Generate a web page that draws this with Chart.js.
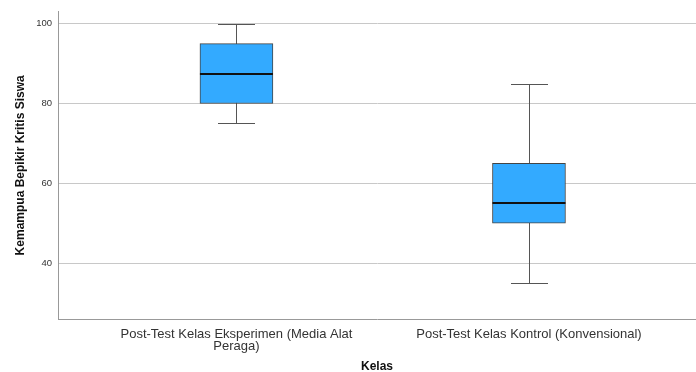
<!DOCTYPE html>
<html>
<head>
<meta charset="utf-8">
<script src="https://cdn.jsdelivr.net/npm/chart.js@4"></script>
<style>
  html, body { margin: 0; padding: 0; background: #fff; }
  #wrap { width: 696px; height: 372px; }
</style>
</head>
<body>
<div id="wrap"><canvas id="box-chart" width="696" height="372"></canvas></div>
<script>
// ===================== DATA =====================
const categories = [
  ["Post-Test Kelas Eksperimen (Media Alat", "Peraga)"],
  "Post-Test Kelas Kontrol (Konvensional)",
];
const mins = [75, 35];
const q1 = [80, 50];
const medians = [87.5, 55];
const q3 = [95, 65];
const maxs = [100, 85];
const yTicks = [40, 60, 80, 100];

const FONT = "'Liberation Sans', Arial, sans-serif";

// whiskers behind the boxes, median on top
const boxPlotPlugin = {
  id: "boxplot",
  beforeDatasetsDraw(chart) {
    const { ctx, scales } = chart;
    const x = scales.x, y = scales.y;
    ctx.save();
    ctx.strokeStyle = "#555";
    ctx.lineWidth = 1;
    categories.forEach((c, i) => {
      const px = Math.round(x.getPixelForValue(i)) + 0.5;
      const half = 18.5;
      const yMin = Math.round(y.getPixelForValue(mins[i])) + 0.5;
      const yMax = Math.round(y.getPixelForValue(maxs[i])) + 0.5;
      ctx.beginPath();
      ctx.moveTo(px, yMin);
      ctx.lineTo(px, yMax);
      ctx.moveTo(px - half, yMin);
      ctx.lineTo(px + half, yMin);
      ctx.moveTo(px - half, yMax);
      ctx.lineTo(px + half, yMax);
      ctx.stroke();
    });
    ctx.restore();
  },
  afterDatasetsDraw(chart) {
    const { ctx, scales } = chart;
    const x = scales.x, y = scales.y;
    ctx.save();
    ctx.strokeStyle = "#111";
    ctx.lineWidth = 2;
    categories.forEach((c, i) => {
      const px = x.getPixelForValue(i);
      const py = Math.round(y.getPixelForValue(medians[i]));
      ctx.beginPath();
      ctx.moveTo(px - 36.5, py);
      ctx.lineTo(px + 36.5, py);
      ctx.stroke();
    });
    ctx.restore();
  },
};

new Chart(document.getElementById("box-chart"), {
  type: "bar",
  data: {
    datasets: [
      {
        data: categories.map((c, i) => ({ x: i, y: [q1[i], q3[i]] })),
        backgroundColor: "#33aaff",
        borderColor: "#444",
        borderWidth: 1,
        borderSkipped: false,
        barThickness: 73,
      },
    ],
  },
  options: {
    responsive: false,
    animation: false,
    layout: { padding: { top: 3, right: 0, left: 0, bottom: 0 } },
    plugins: { legend: { display: false }, tooltip: { enabled: false } },
    scales: {
      x: {
        type: "linear",
        offset: false,
        min: -0.61,
        max: 1.571,
        afterBuildTicks: (s) => { s.ticks = categories.map((c, i) => ({ value: i })); },
        afterFit: (s) => { s.height = 53; },
        grid: { display: false },
        border: { display: true, color: "#999" },
        ticks: {
          callback: (v) => categories[v],
          color: "#333",
          font: { family: FONT, size: 13, lineHeight: 0.92 },
          padding: 1,
          maxRotation: 0,
          autoSkip: false,
        },
        title: {
          display: true,
          text: "Kelas",
          color: "#111",
          font: { family: FONT, size: 12, weight: "bold", lineHeight: 1 },
          padding: { top: 8, bottom: -1 },
        },
      },
      y: {
        min: 26,
        max: 103,
        afterBuildTicks: (s) => { s.ticks = yTicks.map((v) => ({ value: v })); },
        afterFit: (s) => { s.width = 58; },
        grid: { color: "#c8c8c8", drawTicks: false },
        border: { display: true, color: "#999" },
        ticks: {
          color: "#333",
          font: { family: FONT, size: 9.5 },
          padding: 6,
        },
        title: {
          display: true,
          text: "Kemampua Bepikir Kritis Siswa",
          color: "#111",
          font: { family: FONT, size: 12, weight: "bold" },
          padding: { top: 13, bottom: 4 },
        },
      },
    },
  },
  plugins: [boxPlotPlugin],
});
</script>
</body>
</html>
